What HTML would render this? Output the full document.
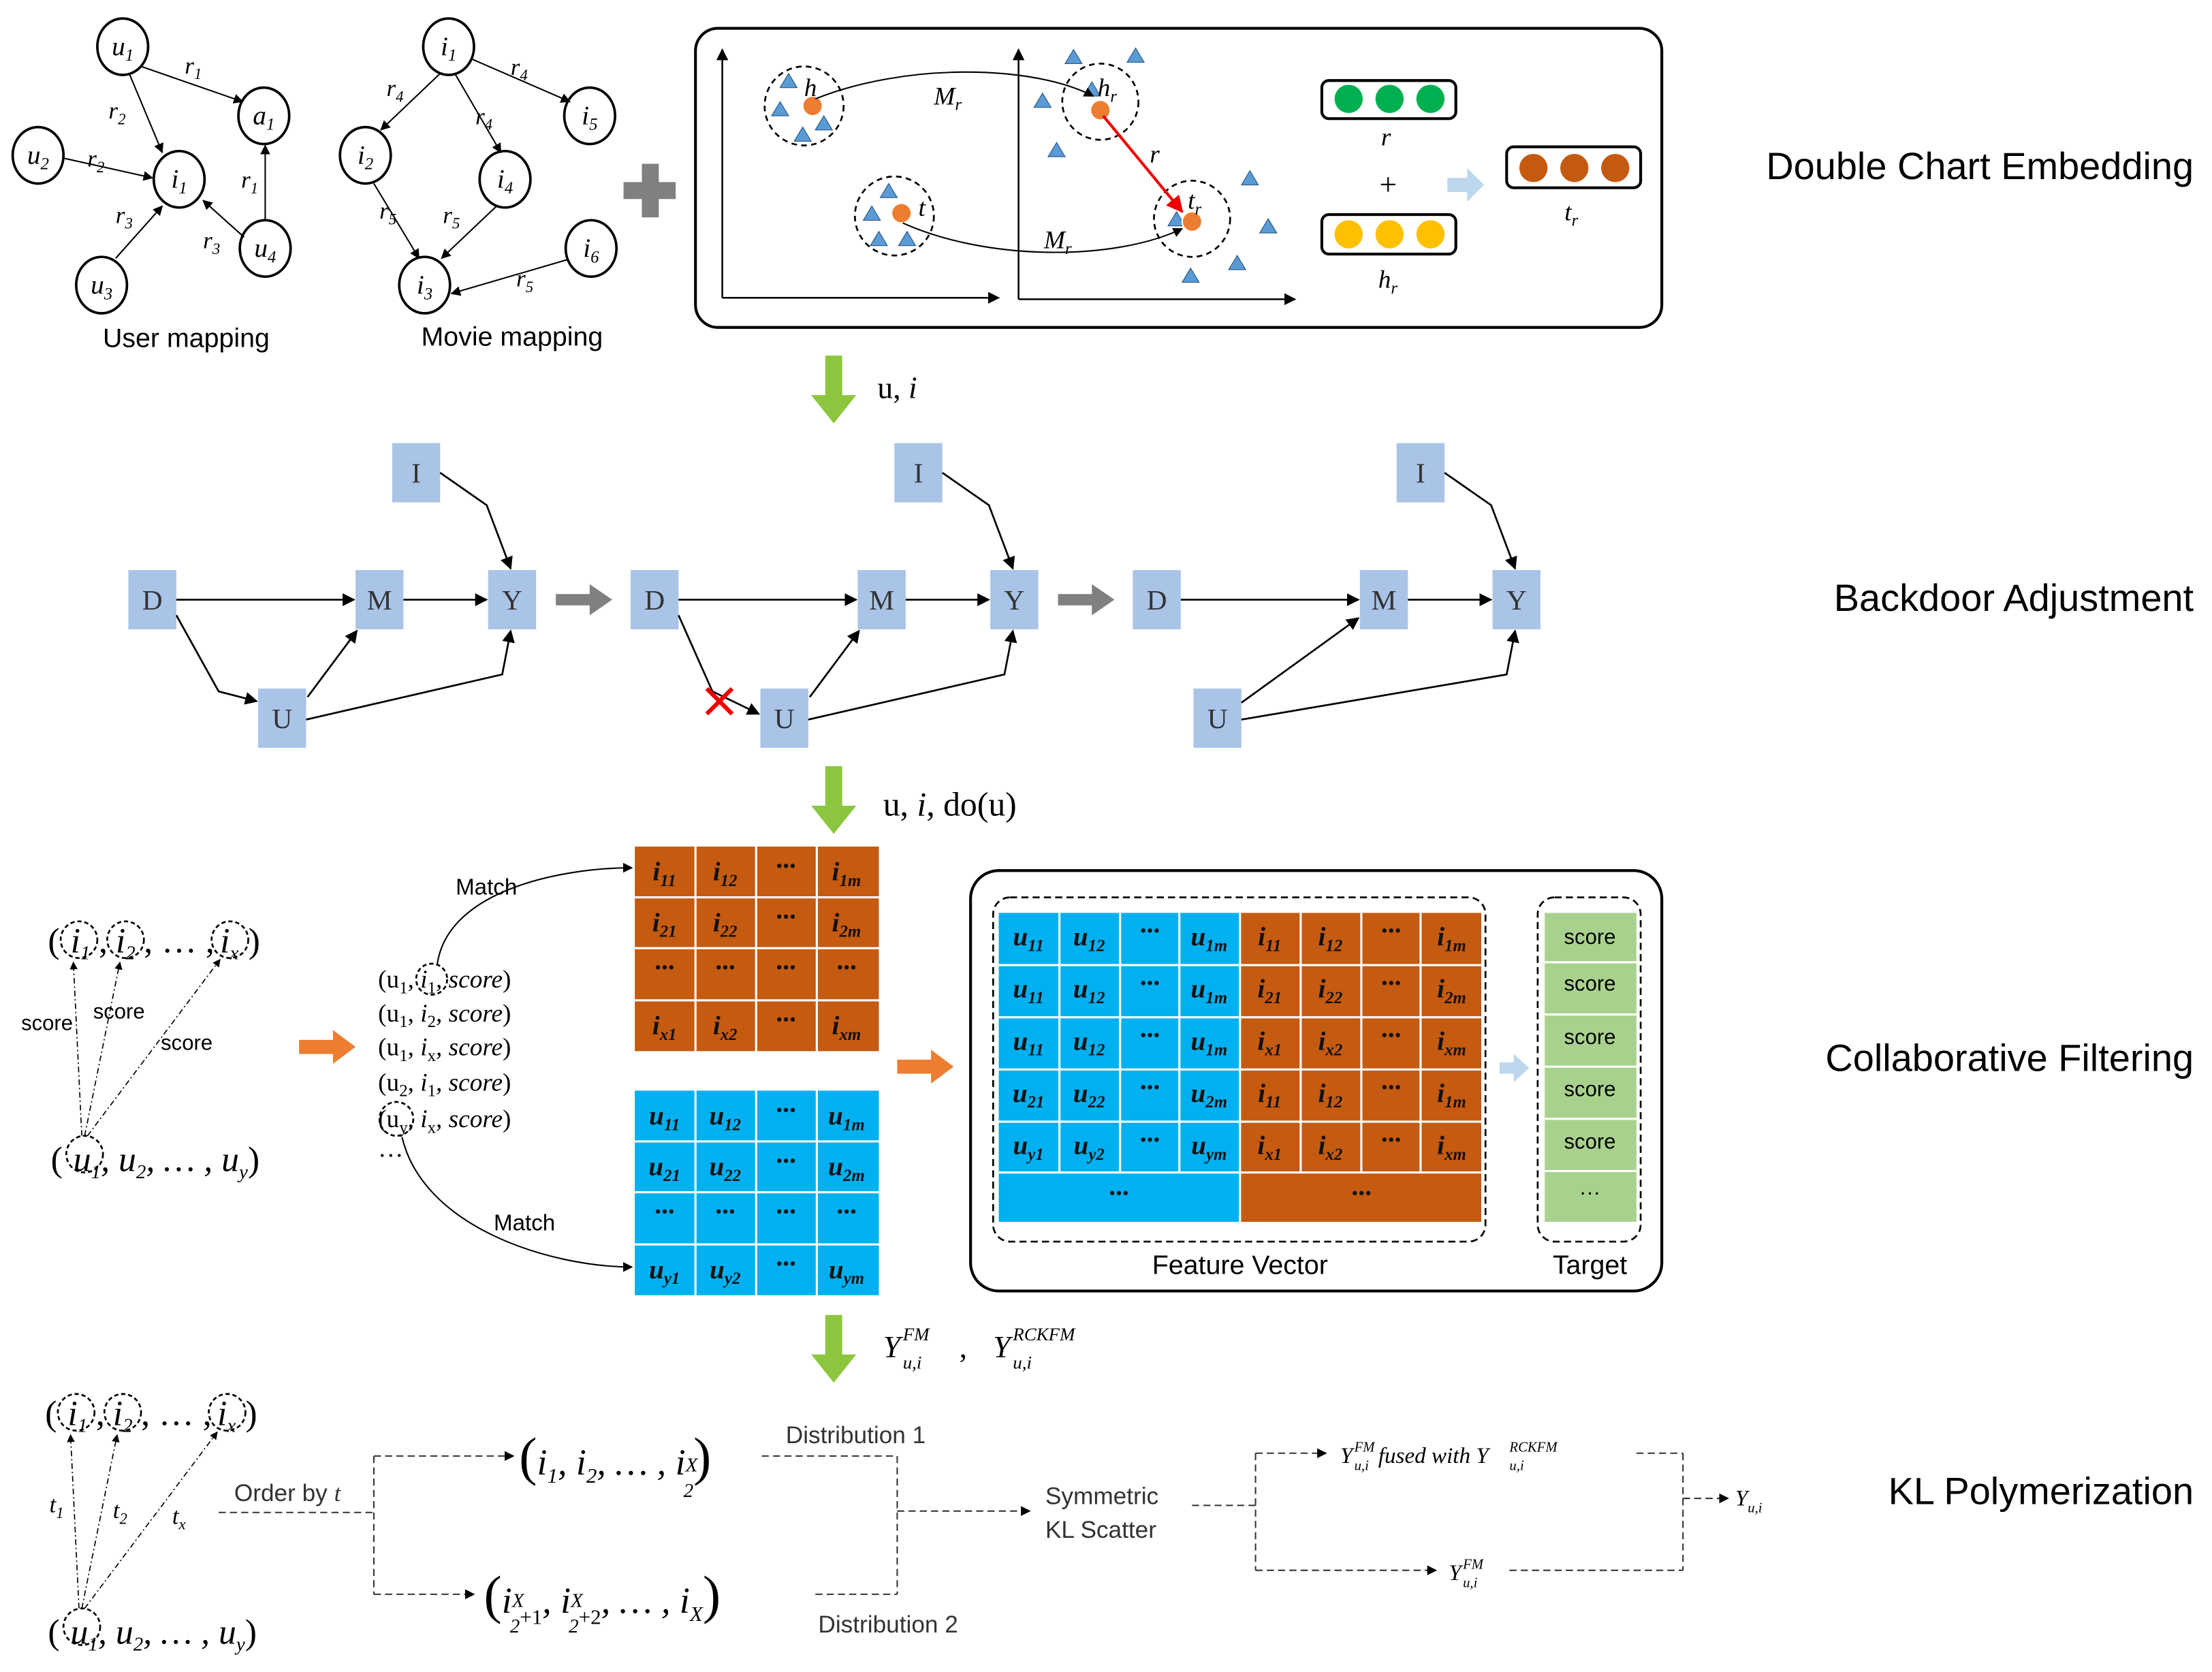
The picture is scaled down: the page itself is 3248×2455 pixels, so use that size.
<!DOCTYPE html>
<html><head><meta charset="utf-8">
<style>
html,body{margin:0;padding:0;background:#fff;}
svg{display:block;}
.ser{font-family:"Liberation Serif",serif;}
.it{font-family:"Liberation Serif",serif;font-style:italic;}
.sans{font-family:"Liberation Sans",sans-serif;}
.t{font-family:"Liberation Sans",sans-serif;font-size:27px;}
.m{font-family:"Liberation Serif",serif;font-style:italic;font-weight:bold;font-size:19px;fill:#111;text-anchor:middle;}
.s{font-size:12px;}
.n{font-family:"Liberation Serif",serif;font-size:20px;text-anchor:middle;fill:#333;}
</style></head>
<body>
<svg width="3248" height="2455" viewBox="0 0 1568 1185" xmlns="http://www.w3.org/2000/svg">
<defs>
<marker id="a" viewBox="0 0 10 10" refX="9" refY="5" markerWidth="7" markerHeight="7" orient="auto"><path d="M0,0L10,5L0,10z" fill="#000"/></marker>
<marker id="ar" viewBox="0 0 10 10" refX="9" refY="5" markerWidth="6" markerHeight="6" orient="auto"><path d="M0,0L10,5L0,10z" fill="#e00"/></marker>
</defs>
<rect width="1568" height="1185" fill="#fff"/>

<!-- ===== Section 1 ===== -->
<g fill="#fff" stroke="#000" stroke-width="1.8">
<ellipse cx="87" cy="33" rx="18" ry="20"/><ellipse cx="187" cy="82" rx="18" ry="20"/>
<ellipse cx="27" cy="110" rx="18" ry="20"/><ellipse cx="127" cy="127" rx="18" ry="20"/>
<ellipse cx="188" cy="176" rx="18" ry="20"/><ellipse cx="72" cy="202" rx="18" ry="20"/>
<ellipse cx="318" cy="33" rx="18" ry="20"/><ellipse cx="418" cy="82" rx="18" ry="20"/>
<ellipse cx="259" cy="110" rx="18" ry="20"/><ellipse cx="358" cy="127" rx="18" ry="20"/>
<ellipse cx="419" cy="176" rx="18" ry="20"/><ellipse cx="301" cy="202" rx="18" ry="20"/>
</g>
<g stroke="#000" stroke-width="1" marker-end="url(#a)">
<line x1="100" y1="47" x2="172" y2="72"/><line x1="92" y1="53" x2="115" y2="108"/>
<line x1="45" y1="112" x2="108" y2="126"/><line x1="82" y1="183" x2="115" y2="146"/>
<line x1="173" y1="168" x2="144" y2="142"/><line x1="188" y1="156" x2="188" y2="103"/>
<line x1="312" y1="52" x2="270" y2="92"/><line x1="323" y1="53" x2="355" y2="108"/>
<line x1="335" y1="42" x2="404" y2="72"/><line x1="265" y1="130" x2="297" y2="183"/>
<line x1="352" y1="146" x2="313" y2="183"/><line x1="402" y1="184" x2="320" y2="208"/>
</g>
<g class="it" font-size="19" text-anchor="middle">
<text x="87" y="39">u<tspan font-size="12" dy="4">1</tspan></text>
<text x="187" y="88">a<tspan font-size="12" dy="4">1</tspan></text>
<text x="27" y="116">u<tspan font-size="12" dy="4">2</tspan></text>
<text x="127" y="133">i<tspan font-size="12" dy="4">1</tspan></text>
<text x="188" y="182">u<tspan font-size="12" dy="4">4</tspan></text>
<text x="72" y="208">u<tspan font-size="12" dy="4">3</tspan></text>
<text x="318" y="39">i<tspan font-size="12" dy="4">1</tspan></text>
<text x="418" y="88">i<tspan font-size="12" dy="4">5</tspan></text>
<text x="259" y="116">i<tspan font-size="12" dy="4">2</tspan></text>
<text x="358" y="133">i<tspan font-size="12" dy="4">4</tspan></text>
<text x="419" y="182">i<tspan font-size="12" dy="4">6</tspan></text>
<text x="301" y="208">i<tspan font-size="12" dy="4">3</tspan></text>
</g>
<g class="it" font-size="17" text-anchor="middle">
<text x="137" y="52">r<tspan font-size="11" dy="4">1</tspan></text>
<text x="83" y="84">r<tspan font-size="11" dy="4">2</tspan></text>
<text x="68" y="118">r<tspan font-size="11" dy="4">2</tspan></text>
<text x="88" y="158">r<tspan font-size="11" dy="4">3</tspan></text>
<text x="150" y="176">r<tspan font-size="11" dy="4">3</tspan></text>
<text x="177" y="133">r<tspan font-size="11" dy="4">1</tspan></text>
<text x="280" y="68">r<tspan font-size="11" dy="4">4</tspan></text>
<text x="343" y="88">r<tspan font-size="11" dy="4">4</tspan></text>
<text x="368" y="53">r<tspan font-size="11" dy="4">4</tspan></text>
<text x="275" y="155">r<tspan font-size="11" dy="4">5</tspan></text>
<text x="320" y="158">r<tspan font-size="11" dy="4">5</tspan></text>
<text x="372" y="203">r<tspan font-size="11" dy="4">5</tspan></text>
</g>
<text x="132" y="246" class="sans" font-size="19" text-anchor="middle">User mapping</text>
<text x="363" y="245" class="sans" font-size="19" text-anchor="middle">Movie mapping</text>
<g fill="#808080"><rect x="455" y="116" width="12" height="38"/><rect x="442" y="129" width="37" height="12"/></g>

<rect x="493" y="20" width="685" height="212" rx="16" fill="none" stroke="#000" stroke-width="2"/>
<g stroke="#000" stroke-width="1.2" marker-end="url(#a)">
<line x1="512" y1="211" x2="512" y2="35"/><line x1="512" y1="211" x2="708" y2="211"/>
<line x1="722" y1="212" x2="722" y2="35"/><line x1="722" y1="212" x2="918" y2="212"/>
</g>
<g fill="none" stroke="#000" stroke-width="1.3" stroke-dasharray="4,3">
<circle cx="570" cy="75" r="28"/><circle cx="634" cy="153" r="28"/>
<circle cx="780" cy="72" r="27"/><circle cx="845" cy="155" r="27"/>
</g>
<g fill="#5b9bd5" stroke="#2e5f8a" stroke-width="0.6">
<path d="M553,62l6,-10l6,10z"/><path d="M547,82l6,-10l6,10z"/><path d="M563,100l6,-10l6,10z"/><path d="M578,92l6,-10l6,10z"/>
<path d="M624,140l6,-10l6,10z"/><path d="M612,156l6,-10l6,10z"/><path d="M617,174l6,-10l6,10z"/><path d="M637,174l6,-10l6,10z"/>
<path d="M755,45l6,-10l6,10z"/><path d="M799,44l6,-10l6,10z"/><path d="M733,76l6,-10l6,10z"/><path d="M743,111l6,-10l6,10z"/>
<path d="M768,68l6,-10l6,10z"/><path d="M880,131l6,-10l6,10z"/><path d="M893,165l6,-10l6,10z"/><path d="M871,191l6,-10l6,10z"/><path d="M838,200l6,-10l6,10z"/><path d="M828,160l6,-10l6,10z"/>
</g>
<g fill="#ed7d31" stroke="#fff" stroke-width="1"><circle cx="576" cy="75" r="7"/><circle cx="639" cy="151" r="7"/><circle cx="780" cy="78" r="7"/><circle cx="845" cy="157" r="7"/></g>
<path d="M578,70 C640,45 730,45 775,68" fill="none" stroke="#000" stroke-width="1" marker-end="url(#a)"/>
<path d="M640,158 C700,185 790,185 838,162" fill="none" stroke="#000" stroke-width="1" marker-end="url(#a)"/>
<line x1="782" y1="82" x2="838" y2="150" stroke="#e00" stroke-width="2" marker-end="url(#ar)"/>
<g class="it" font-size="18">
<text x="570" y="68">h</text><text x="651" y="153">t</text>
<text x="662" y="74">M<tspan font-size="12" dy="4">r</tspan></text>
<text x="740" y="176">M<tspan font-size="12" dy="4">r</tspan></text>
<text x="778" y="68">h<tspan font-size="12" dy="4">r</tspan></text>
<text x="842" y="148">t<tspan font-size="12" dy="4">r</tspan></text>
<text x="815" y="115">r</text>
<text x="979" y="103">r</text>
<text x="977" y="204">h<tspan font-size="12" dy="4">r</tspan></text>
<text x="1109" y="156">t<tspan font-size="12" dy="4">r</tspan></text>
</g>
<text x="984" y="138" class="ser" font-size="22" text-anchor="middle">+</text>
<rect x="937" y="57" width="95" height="27" rx="5" fill="#fff" stroke="#000" stroke-width="2"/>
<g fill="#00b050"><circle cx="956" cy="70" r="10"/><circle cx="985" cy="70" r="10"/><circle cx="1014" cy="70" r="10"/></g>
<rect x="937" y="152" width="95" height="28" rx="5" fill="#fff" stroke="#000" stroke-width="2"/>
<g fill="#ffc000"><circle cx="956" cy="166" r="10"/><circle cx="985" cy="166" r="10"/><circle cx="1014" cy="166" r="10"/></g>
<rect x="1068" y="104" width="95" height="29" rx="5" fill="#fff" stroke="#000" stroke-width="2"/>
<g fill="#c55a11"><circle cx="1087" cy="119" r="10"/><circle cx="1116" cy="119" r="10"/><circle cx="1145" cy="119" r="10"/></g>
<path d="M1026,126h14v-7l12,12l-12,12v-7h-14z" fill="#bdd7ee"/>
<text x="1555" y="127" class="t" text-anchor="end">Double Chart Embedding</text>

<path d="M585,252h12v28h10l-16,20l-16,-20h10z" fill="#8cc63f"/>
<text x="622" y="282" class="ser" font-size="22">u, <tspan font-style="italic">i</tspan></text>

<!-- ===== Section 2 ===== -->
<g fill="#a9c4e6">
<rect x="278" y="314" width="34" height="42"/><rect x="91" y="404" width="34" height="42"/><rect x="252" y="404" width="34" height="42"/><rect x="346" y="404" width="34" height="42"/><rect x="183" y="488" width="34" height="42"/>
<rect x="634" y="314" width="34" height="42"/><rect x="447" y="404" width="34" height="42"/><rect x="608" y="404" width="34" height="42"/><rect x="702" y="404" width="34" height="42"/><rect x="539" y="488" width="34" height="42"/>
<rect x="990" y="314" width="34" height="42"/><rect x="803" y="404" width="34" height="42"/><rect x="964" y="404" width="34" height="42"/><rect x="1058" y="404" width="34" height="42"/><rect x="846" y="488" width="34" height="42"/>
</g>
<g class="n">
<text x="295" y="342">I</text><text x="108" y="432">D</text><text x="269" y="432">M</text><text x="363" y="432">Y</text><text x="200" y="516">U</text>
<text x="651" y="342">I</text><text x="464" y="432">D</text><text x="625" y="432">M</text><text x="719" y="432">Y</text><text x="556" y="516">U</text>
<text x="1007" y="342">I</text><text x="820" y="432">D</text><text x="981" y="432">M</text><text x="1075" y="432">Y</text><text x="863" y="516">U</text>
</g>
<g stroke="#000" stroke-width="1.3" fill="none" marker-end="url(#a)">
<line x1="125" y1="425" x2="251" y2="425"/><line x1="286" y1="425" x2="345" y2="425"/>
<path d="M312,335 L345,358 L362,403"/><path d="M125,436 L155,490 L182,497"/>
<line x1="218" y1="494" x2="253" y2="447"/><path d="M217,510 L356,478 L362,447"/>
<line x1="481" y1="425" x2="607" y2="425"/><line x1="642" y1="425" x2="701" y2="425"/>
<path d="M668,335 L701,358 L718,403"/><path d="M481,436 L505,490 L538,506"/>
<line x1="574" y1="494" x2="609" y2="447"/><path d="M573,510 L712,478 L718,447"/>
<line x1="837" y1="425" x2="963" y2="425"/><line x1="998" y1="425" x2="1057" y2="425"/>
<path d="M1024,335 L1057,358 L1074,403"/>
<line x1="880" y1="498" x2="963" y2="438"/><path d="M880,510 L1068,478 L1074,447"/>
</g>
<g stroke="#e00" stroke-width="3"><line x1="501" y1="488" x2="519" y2="506"/><line x1="519" y1="488" x2="501" y2="506"/></g>
<g fill="#808080"><path d="M394,421h24v-7l16,11l-16,11v-7h-24z"/><path d="M750,421h24v-7l16,11l-16,11v-7h-24z"/></g>
<text x="1555" y="433" class="t" text-anchor="end">Backdoor Adjustment</text>

<path d="M585,543h12v28h10l-16,20l-16,-20h10z" fill="#8cc63f"/>
<text x="626" y="578" class="ser" font-size="24">u, <tspan font-style="italic">i</tspan>, do(u)</text>

<!-- ===== Section 3 ===== -->
<g class="it" font-size="25">
<text x="34" y="675" font-style="normal">(</text>
<text x="50" y="675">i<tspan font-size="14" dy="5">1</tspan></text>
<text x="70" y="675" font-style="normal">,</text>
<text x="82" y="675">i<tspan font-size="14" dy="5">2</tspan></text>
<text x="102" y="675" font-style="normal">, … ,</text>
<text x="156" y="675">i<tspan font-size="14" dy="5">x</tspan></text>
<text x="176" y="675" font-style="normal">)</text>
<text x="36" y="830" font-style="normal">(</text>
<text x="52" y="830">u<tspan font-size="14" dy="5">1</tspan><tspan dy="-5">, u</tspan><tspan font-size="14" dy="5">2</tspan><tspan dy="-5">, … , u</tspan><tspan font-size="14" dy="5">y</tspan><tspan dy="-5" font-style="normal">)</tspan></text>
</g>
<g fill="none" stroke="#000" stroke-width="1.3" stroke-dasharray="3,2">
<circle cx="56" cy="666" r="13"/><circle cx="89" cy="666" r="13"/><circle cx="163" cy="666" r="13"/><circle cx="60" cy="818" r="13"/>
</g>
<g stroke="#000" stroke-width="0.8" stroke-dasharray="4,2,1,2" marker-end="url(#a)">
<line x1="58" y1="805" x2="52" y2="682"/><line x1="60" y1="805" x2="85" y2="682"/><line x1="62" y1="805" x2="156" y2="680"/>
</g>
<g class="sans" font-size="15"><text x="15" y="730">score</text><text x="66" y="722">score</text><text x="114" y="744">score</text></g>
<path d="M212,737h24v-7l16,12l-16,12v-7h-24z" fill="#ed7d31"/>
<g class="ser" font-size="18">
<text x="268" y="700">(u<tspan font-size="12" dy="4">1</tspan><tspan dy="-4">, </tspan><tspan font-style="italic">i</tspan><tspan font-size="12" dy="4">1</tspan><tspan dy="-4" font-style="italic">, score</tspan>)</text>
<text x="268" y="724">(u<tspan font-size="12" dy="4">1</tspan><tspan dy="-4">, </tspan><tspan font-style="italic">i</tspan><tspan font-size="12" dy="4">2</tspan><tspan dy="-4" font-style="italic">, score</tspan>)</text>
<text x="268" y="748">(u<tspan font-size="12" dy="4">1</tspan><tspan dy="-4">, </tspan><tspan font-style="italic">i</tspan><tspan font-size="12" dy="4">x</tspan><tspan dy="-4" font-style="italic">, score</tspan>)</text>
<text x="268" y="773">(u<tspan font-size="12" dy="4">2</tspan><tspan dy="-4">, </tspan><tspan font-style="italic">i</tspan><tspan font-size="12" dy="4">1</tspan><tspan dy="-4" font-style="italic">, score</tspan>)</text>
<text x="268" y="799">(u<tspan font-size="12" dy="4">y</tspan><tspan dy="-4">, </tspan><tspan font-style="italic">i</tspan><tspan font-size="12" dy="4">x</tspan><tspan dy="-4" font-style="italic">, score</tspan>)</text>
<text x="268" y="820">…</text>
</g>
<g fill="none" stroke="#000" stroke-width="1.3" stroke-dasharray="3,2"><circle cx="306" cy="694" r="11"/><circle cx="281" cy="793" r="12"/></g>
<path d="M310,683 C318,630 400,615 448,615" fill="none" stroke="#000" stroke-width="1" marker-end="url(#a)"/>
<path d="M285,806 C300,870 390,898 448,898" fill="none" stroke="#000" stroke-width="1" marker-end="url(#a)"/>
<text x="323" y="634" class="sans" font-size="16">Match</text>
<text x="350" y="872" class="sans" font-size="16">Match</text>

<rect x="450" y="600" width="173" height="145" fill="#c55a11"/>
<g stroke="#fff" stroke-width="1.5"><line x1="493" y1="600" x2="493" y2="745"/><line x1="536" y1="600" x2="536" y2="745"/><line x1="579" y1="600" x2="579" y2="745"/><line x1="450" y1="636" x2="623" y2="636"/><line x1="450" y1="672" x2="623" y2="672"/><line x1="450" y1="709" x2="623" y2="709"/></g>
<g class="m">
<text x="471" y="624">i<tspan class="s" dy="4">11</tspan></text><text x="514" y="624">i<tspan class="s" dy="4">12</tspan></text><text x="557" y="620">···</text><text x="600" y="624">i<tspan class="s" dy="4">1m</tspan></text>
<text x="471" y="660">i<tspan class="s" dy="4">21</tspan></text><text x="514" y="660">i<tspan class="s" dy="4">22</tspan></text><text x="557" y="656">···</text><text x="600" y="660">i<tspan class="s" dy="4">2m</tspan></text>
<text x="471" y="692">···</text><text x="514" y="692">···</text><text x="557" y="692">···</text><text x="600" y="692">···</text>
<text x="471" y="733">i<tspan class="s" dy="4">x1</tspan></text><text x="514" y="733">i<tspan class="s" dy="4">x2</tspan></text><text x="557" y="729">···</text><text x="600" y="733">i<tspan class="s" dy="4">xm</tspan></text>
</g>
<rect x="450" y="773" width="173" height="145" fill="#00b0f0"/>
<g stroke="#fff" stroke-width="1.5"><line x1="493" y1="773" x2="493" y2="918"/><line x1="536" y1="773" x2="536" y2="918"/><line x1="579" y1="773" x2="579" y2="918"/><line x1="450" y1="809" x2="623" y2="809"/><line x1="450" y1="845" x2="623" y2="845"/><line x1="450" y1="882" x2="623" y2="882"/></g>
<g class="m">
<text x="471" y="797">u<tspan class="s" dy="4">11</tspan></text><text x="514" y="797">u<tspan class="s" dy="4">12</tspan></text><text x="557" y="793">···</text><text x="600" y="797">u<tspan class="s" dy="4">1m</tspan></text>
<text x="471" y="833">u<tspan class="s" dy="4">21</tspan></text><text x="514" y="833">u<tspan class="s" dy="4">22</tspan></text><text x="557" y="829">···</text><text x="600" y="833">u<tspan class="s" dy="4">2m</tspan></text>
<text x="471" y="865">···</text><text x="514" y="865">···</text><text x="557" y="865">···</text><text x="600" y="865">···</text>
<text x="471" y="906">u<tspan class="s" dy="4">y1</tspan></text><text x="514" y="906">u<tspan class="s" dy="4">y2</tspan></text><text x="557" y="902">···</text><text x="600" y="906">u<tspan class="s" dy="4">ym</tspan></text>
</g>
<path d="M636,751h24v-7l16,12l-16,12v-7h-24z" fill="#ed7d31"/>

<rect x="688" y="617" width="490" height="298" rx="20" fill="none" stroke="#000" stroke-width="2"/>
<rect x="704" y="636" width="349" height="244" rx="12" fill="none" stroke="#000" stroke-width="1.3" stroke-dasharray="5,3"/>
<rect x="708" y="647" width="171" height="219" fill="#00b0f0"/>
<rect x="879" y="647" width="171" height="219" fill="#c55a11"/>
<g stroke="#fff" stroke-width="1.5">
<line x1="708" y1="684" x2="1050" y2="684"/><line x1="708" y1="721" x2="1050" y2="721"/><line x1="708" y1="758" x2="1050" y2="758"/><line x1="708" y1="795" x2="1050" y2="795"/><line x1="708" y1="831" x2="1050" y2="831"/>
<line x1="751" y1="647" x2="751" y2="831"/><line x1="794" y1="647" x2="794" y2="831"/><line x1="836" y1="647" x2="836" y2="831"/><line x1="879" y1="647" x2="879" y2="866"/><line x1="922" y1="647" x2="922" y2="831"/><line x1="965" y1="647" x2="965" y2="831"/><line x1="1007" y1="647" x2="1007" y2="831"/>
</g>
<g class="m">
<text x="729" y="670">u<tspan class="s" dy="4">11</tspan></text><text x="772" y="670">u<tspan class="s" dy="4">12</tspan></text><text x="815" y="666">···</text><text x="857" y="670">u<tspan class="s" dy="4">1m</tspan></text><text x="900" y="670">i<tspan class="s" dy="4">11</tspan></text><text x="943" y="670">i<tspan class="s" dy="4">12</tspan></text><text x="986" y="666">···</text><text x="1029" y="670">i<tspan class="s" dy="4">1m</tspan></text>
<text x="729" y="707">u<tspan class="s" dy="4">11</tspan></text><text x="772" y="707">u<tspan class="s" dy="4">12</tspan></text><text x="815" y="703">···</text><text x="857" y="707">u<tspan class="s" dy="4">1m</tspan></text><text x="900" y="707">i<tspan class="s" dy="4">21</tspan></text><text x="943" y="707">i<tspan class="s" dy="4">22</tspan></text><text x="986" y="703">···</text><text x="1029" y="707">i<tspan class="s" dy="4">2m</tspan></text>
<text x="729" y="744">u<tspan class="s" dy="4">11</tspan></text><text x="772" y="744">u<tspan class="s" dy="4">12</tspan></text><text x="815" y="740">···</text><text x="857" y="744">u<tspan class="s" dy="4">1m</tspan></text><text x="900" y="744">i<tspan class="s" dy="4">x1</tspan></text><text x="943" y="744">i<tspan class="s" dy="4">x2</tspan></text><text x="986" y="740">···</text><text x="1029" y="744">i<tspan class="s" dy="4">xm</tspan></text>
<text x="729" y="781">u<tspan class="s" dy="4">21</tspan></text><text x="772" y="781">u<tspan class="s" dy="4">22</tspan></text><text x="815" y="777">···</text><text x="857" y="781">u<tspan class="s" dy="4">2m</tspan></text><text x="900" y="781">i<tspan class="s" dy="4">11</tspan></text><text x="943" y="781">i<tspan class="s" dy="4">12</tspan></text><text x="986" y="777">···</text><text x="1029" y="781">i<tspan class="s" dy="4">1m</tspan></text>
<text x="729" y="818">u<tspan class="s" dy="4">y1</tspan></text><text x="772" y="818">u<tspan class="s" dy="4">y2</tspan></text><text x="815" y="814">···</text><text x="857" y="818">u<tspan class="s" dy="4">ym</tspan></text><text x="900" y="818">i<tspan class="s" dy="4">x1</tspan></text><text x="943" y="818">i<tspan class="s" dy="4">x2</tspan></text><text x="986" y="814">···</text><text x="1029" y="818">i<tspan class="s" dy="4">xm</tspan></text>
<text x="793" y="852">···</text><text x="965" y="852">···</text>
</g>
<text x="879" y="903" class="sans" font-size="19" text-anchor="middle">Feature Vector</text>
<path d="M1063,753h10v-6l11,10l-11,10v-6h-10z" fill="#bdd7ee"/>
<rect x="1090" y="636" width="73" height="244" rx="12" fill="none" stroke="#000" stroke-width="1.3" stroke-dasharray="5,3"/>
<rect x="1095" y="647" width="65" height="219" fill="#a9d18e"/>
<g stroke="#fff" stroke-width="1.5"><line x1="1095" y1="682" x2="1160" y2="682"/><line x1="1095" y1="719" x2="1160" y2="719"/><line x1="1095" y1="756" x2="1160" y2="756"/><line x1="1095" y1="793" x2="1160" y2="793"/><line x1="1095" y1="830" x2="1160" y2="830"/></g>
<g class="sans" font-size="15" text-anchor="middle">
<text x="1127" y="669">score</text><text x="1127" y="702">score</text><text x="1127" y="740">score</text><text x="1127" y="777">score</text><text x="1127" y="814">score</text><text x="1127" y="850">···</text>
</g>
<text x="1127" y="903" class="sans" font-size="19" text-anchor="middle">Target</text>
<text x="1555" y="759" class="t" text-anchor="end">Collaborative Filtering</text>

<path d="M585,932h12v28h10l-16,20l-16,-20h10z" fill="#8cc63f"/>
<g class="it" font-size="22">
<text x="626" y="962">Y</text><text x="640" y="950" font-size="13">FM</text><text x="640" y="970" font-size="13">u,i</text>
<text x="680" y="962" font-style="normal">,</text>
<text x="704" y="962">Y</text><text x="718" y="950" font-size="13">RCKFM</text><text x="718" y="970" font-size="13">u,i</text>
</g>

<!-- ===== Section 4 ===== -->
<g class="it" font-size="25">
<text x="32" y="1010" font-style="normal">(</text>
<text x="48" y="1010">i<tspan font-size="14" dy="5">1</tspan></text>
<text x="68" y="1010" font-style="normal">,</text>
<text x="80" y="1010">i<tspan font-size="14" dy="5">2</tspan></text>
<text x="100" y="1010" font-style="normal">, … ,</text>
<text x="154" y="1010">i<tspan font-size="14" dy="5">x</tspan></text>
<text x="174" y="1010" font-style="normal">)</text>
<text x="34" y="1165" font-style="normal">(</text>
<text x="50" y="1165">u<tspan font-size="14" dy="5">1</tspan><tspan dy="-5">, u</tspan><tspan font-size="14" dy="5">2</tspan><tspan dy="-5">, … , u</tspan><tspan font-size="14" dy="5">y</tspan><tspan dy="-5" font-style="normal">)</tspan></text>
</g>
<g fill="none" stroke="#000" stroke-width="1.3" stroke-dasharray="3,2">
<circle cx="54" cy="1001" r="13"/><circle cx="87" cy="1001" r="13"/><circle cx="161" cy="1001" r="13"/><circle cx="58" cy="1153" r="13"/>
</g>
<g stroke="#000" stroke-width="0.8" stroke-dasharray="4,2,1,2" marker-end="url(#a)">
<line x1="56" y1="1140" x2="50" y2="1017"/><line x1="58" y1="1140" x2="83" y2="1017"/><line x1="60" y1="1140" x2="154" y2="1015"/>
</g>
<g class="it" font-size="17"><text x="35" y="1072">t<tspan font-size="11" dy="4">1</tspan></text><text x="80" y="1076">t<tspan font-size="11" dy="4">2</tspan></text><text x="122" y="1080">t<tspan font-size="11" dy="4">x</tspan></text></g>
<text x="166" y="1064" class="sans" font-size="17" fill="#333">Order by <tspan class="it">t</tspan></text>
<g stroke="#333" stroke-width="1" stroke-dasharray="5,3" fill="none">
<line x1="155" y1="1072" x2="265" y2="1072"/><line x1="265" y1="1032" x2="265" y2="1130"/>
<line x1="540" y1="1032" x2="636" y2="1032"/><line x1="636" y1="1032" x2="636" y2="1130"/><line x1="578" y1="1130" x2="636" y2="1130"/>
<line x1="845" y1="1067" x2="890" y2="1067"/><line x1="890" y1="1030" x2="890" y2="1113"/>
<line x1="1160" y1="1030" x2="1193" y2="1030"/><line x1="1070" y1="1113" x2="1193" y2="1113"/><line x1="1193" y1="1030" x2="1193" y2="1113"/>
</g>
<g stroke="#333" stroke-width="1" stroke-dasharray="5,3" marker-end="url(#a)">
<line x1="265" y1="1032" x2="364" y2="1032"/><line x1="265" y1="1130" x2="336" y2="1130"/>
<line x1="636" y1="1071" x2="730" y2="1071"/>
<line x1="890" y1="1030" x2="940" y2="1030"/><line x1="890" y1="1113" x2="1018" y2="1113"/>
<line x1="1193" y1="1062" x2="1225" y2="1062"/>
</g>
<g class="it" font-size="26">
<text x="368" y="1045"><tspan font-style="normal" font-size="38">(</tspan>i<tspan font-size="15" dy="6">1</tspan><tspan dy="-6">, i</tspan><tspan font-size="15" dy="6">2</tspan><tspan dy="-6">, … , i</tspan><tspan font-size="14" dy="-2">X</tspan><tspan font-size="14" dx="-10" dy="18">2</tspan><tspan font-style="normal" font-size="38" dy="-16">)</tspan></text>
<text x="343" y="1143"><tspan font-style="normal" font-size="38">(</tspan>i<tspan font-size="14" dy="-4">X</tspan><tspan font-size="14" dx="-10" dy="18">2</tspan><tspan font-size="15" dy="-6" font-style="normal">+1</tspan><tspan dy="-8">, i</tspan><tspan font-size="14" dy="-4">X</tspan><tspan font-size="14" dx="-10" dy="18">2</tspan><tspan font-size="15" dy="-6" font-style="normal">+2</tspan><tspan dy="-8">, … , i</tspan><tspan font-size="15" dy="6">X</tspan><tspan font-style="normal" font-size="38" dy="-6">)</tspan></text>
</g>
<g class="sans" font-size="17" fill="#333">
<text x="557" y="1023">Distribution 1</text><text x="580" y="1157">Distribution 2</text>
<text x="741" y="1066">Symmetric</text><text x="741" y="1090">KL Scatter</text>
</g>
<g class="it" font-size="16">
<text x="950" y="1037">Y</text><text x="960" y="1029" font-size="10">FM</text><text x="960" y="1042" font-size="10">u,i</text>
<text x="977" y="1037">fused with Y</text><text x="1070" y="1029" font-size="10">RCKFM</text><text x="1070" y="1042" font-size="10">u,i</text>
<text x="1027" y="1120">Y</text><text x="1037" y="1112" font-size="10">FM</text><text x="1037" y="1125" font-size="10">u,i</text>
<text x="1230" y="1067">Y<tspan font-size="10" dy="5">u,i</tspan></text>
</g>
<text x="1555" y="1066" class="t" text-anchor="end">KL Polymerization</text>
</svg>
</body></html>
